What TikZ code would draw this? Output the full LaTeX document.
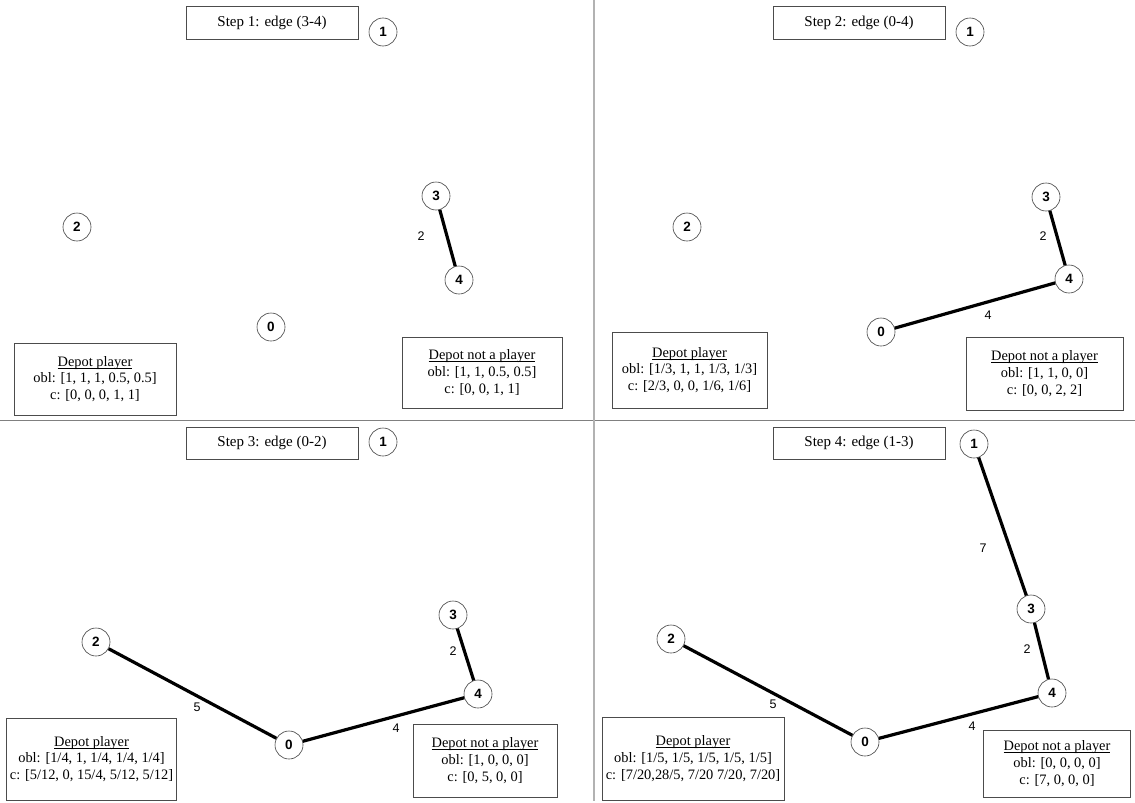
\documentclass[tikz,border=0pt]{standalone}
\usepackage{fontspec}
\setmainfont{Liberation Serif}
\newfontfamily\lsans{Liberation Sans}
\newcommand\myul[1]{\setbox0\hbox{#1}\rlap{\rule[-2pt]{\wd0}{0.55pt}}\box0}
\begin{document}
\begin{tikzpicture}[x=1pt,y=-1pt,
  vtx/.style={circle,draw=black!75,line width=0.6pt,minimum size=28pt,inner sep=0pt,font=\lsans\fontsize{13.5}{13.5}\selectfont\bfseries},
  titlebox/.style={draw=black!70,line width=0.6pt,font=\fontsize{15}{17}\selectfont},
  infobox/.style={draw=black!70,line width=0.6pt,font=\fontsize{14.4}{16.8}\selectfont,align=center},
  wedge/.style={line width=3.2pt},
  wlab/.style={font=\lsans\fontsize{12.5}{12.5}\selectfont}]
\useasboundingbox (0,0) rectangle (1135,803);
\fill[white] (0,0) rectangle (1135,803);
% dividers
\coordinate (hl) at (0,420); \coordinate (hr) at (1135,420);
\coordinate (vt) at (594,0); \coordinate (vb) at (594,801);
\draw[black!50,line width=1pt] (hl) -- (hr);
\draw[black!30,line width=2pt] (vt) -- (vb);

% ---------- Panel 1 ----------
\node[titlebox,minimum width=172pt,minimum height=33pt] (t1) at (272,22.5) {Step 1: edge (3-4)};
\node[vtx] (a1) at (383,32) {1};
\node[vtx] (a2) at (77,227) {2};
\node[vtx] (a3) at (436,196) {3};
\node[vtx] (a4) at (459,280) {4};
\node[vtx] (a0) at (271,327) {0};
\draw[wedge] (a3) -- (a4);
\node[wlab] (la34) at (421,236) {2};
\node[infobox,minimum width=162pt,minimum height=72pt] (dp1) at (95,379) {\myul{Depot player}\\obl: [1, 1, 1, 0.5, 0.5]\\c: [0, 0, 0, 1, 1]};
\node[infobox,minimum width=160pt,minimum height=71pt] (dn1) at (482,372.5) {\myul{Depot not a player}\\obl: [1, 1, 0.5, 0.5]\\c: [0, 0, 1, 1]};

% ---------- Panel 2 ----------
\node[titlebox,minimum width=172pt,minimum height=33pt] (t2) at (859,22.5) {Step 2: edge (0-4)};
\node[vtx] (b1) at (970,32) {1};
\node[vtx] (b2) at (687,227) {2};
\node[vtx] (b3) at (1046,197) {3};
\node[vtx] (b4) at (1069,279) {4};
\node[vtx] (b0) at (881,332) {0};
\draw[wedge] (b3) -- (b4);
\draw[wedge] (b0) -- (b4);
\node[wlab] (lb34) at (1043,236) {2};
\node[wlab] (lb04) at (988,315) {4};
\node[infobox,minimum width=155pt,minimum height=76pt] (dp2) at (689.5,370) {\myul{Depot player}\\obl: [1/3, 1, 1, 1/3, 1/3]\\c: [2/3, 0, 0, 1/6, 1/6]};
\node[infobox,minimum width=157pt,minimum height=73pt] (dn2) at (1044.5,373.5) {\myul{Depot not a player}\\obl: [1, 1, 0, 0]\\c: [0, 0, 2, 2]};

% ---------- Panel 3 ----------
\node[titlebox,minimum width=172pt,minimum height=32pt] (t3) at (272,443) {Step 3: edge (0-2)};
\node[vtx] (c1) at (383,442) {1};
\node[vtx] (c2) at (96,642) {2};
\node[vtx] (c3) at (453,615) {3};
\node[vtx] (c4) at (478,694) {4};
\node[vtx] (c0) at (289,745) {0};
\draw[wedge] (c3) -- (c4);
\draw[wedge] (c0) -- (c4);
\draw[wedge] (c2) -- (c0);
\node[wlab] (lc34) at (453,651) {2};
\node[wlab] (lc04) at (396,728) {4};
\node[wlab] (lc20) at (197,707) {5};
\node[infobox,minimum width=167pt,minimum height=82pt] (dp3) at (91.5,759) {\myul{Depot player}\\obl: [1/4, 1, 1/4, 1/4, 1/4]\\c: [5/12, 0, 15/4, 5/12, 5/12]};
\node[infobox,minimum width=144pt,minimum height=73pt] (dn3) at (485,760.5) {\myul{Depot not a player}\\obl: [1, 0, 0, 0]\\c: [0, 5, 0, 0]};

% ---------- Panel 4 ----------
\node[titlebox,minimum width=172pt,minimum height=32pt] (t4) at (859,443) {Step 4: edge (1-3)};
\node[vtx] (d1) at (974,444) {1};
\node[vtx] (d2) at (671,639) {2};
\node[vtx] (d3) at (1031,609) {3};
\node[vtx] (d4) at (1052,693) {4};
\node[vtx] (d0) at (865,742) {0};
\draw[wedge] (d1) -- (d3);
\draw[wedge] (d3) -- (d4);
\draw[wedge] (d0) -- (d4);
\draw[wedge] (d2) -- (d0);
\node[wlab] (ld13) at (983,548) {7};
\node[wlab] (ld34) at (1027,649) {2};
\node[wlab] (ld04) at (972,726) {4};
\node[wlab] (ld20) at (773,704) {5};
\node[infobox,minimum width=182pt,minimum height=83pt] (dp4) at (693,758.5) {\myul{Depot player}\\obl: [1/5, 1/5, 1/5, 1/5, 1/5]\\c: [7/20,28/5, 7/20 7/20, 7/20]};
\node[infobox,minimum width=147pt,minimum height=67pt] (dn4) at (1057,763.5) {\myul{Depot not a player}\\obl: [0, 0, 0, 0]\\c: [7, 0, 0, 0]};
\end{tikzpicture}
\end{document}
